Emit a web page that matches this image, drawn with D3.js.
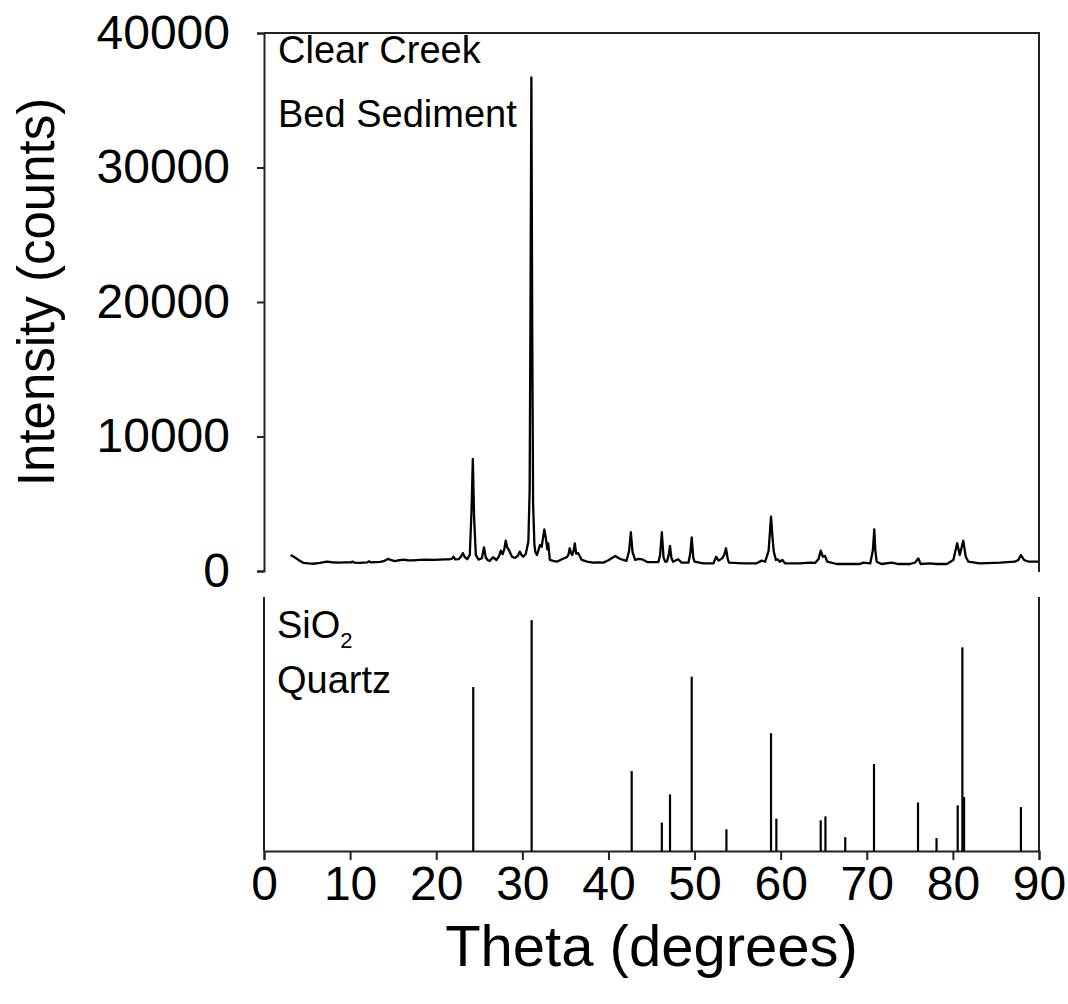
<!DOCTYPE html>
<html>
<head>
<meta charset="utf-8">
<script src="https://cdn.jsdelivr.net/npm/d3@7"></script>
<style>
  html, body { margin: 0; padding: 0; background: #fff; }
  svg { display: block; font-family: "Liberation Sans", Arial, Helvetica, sans-serif; }
</style>
</head>
<body>
<svg id="chart" width="1068" height="1004"></svg>
<script>
// Measured XRD pattern of Clear Creek bed sediment (2-theta in degrees, counts)
const scanTheta = [3.1,3.6,4.1,4.6,5.2,5.7,6.5,7.3,7.9,8.6,9.5,10.1,10.3,10.5,11.1,12.0,12.2,12.4,13.5,14.0,14.4,14.8,15.2,15.7,16.2,16.7,17.3,18.1,18.9,19.6,20.4,21.0,21.4,21.8,22.0,22.2,22.6,22.9,23.1,23.3,23.6,23.9,24.1,24.25,24.4,24.6,24.9,25.3,25.55,25.75,26.0,26.2,26.6,27.0,27.3,27.5,27.7,27.9,28.07,28.25,28.4,28.8,29.15,29.5,29.7,29.9,30.1,30.4,30.7,30.85,30.95,31.05,31.15,31.25,31.4,31.5,31.7,32.05,32.25,32.55,32.75,32.9,33.0,33.2,33.6,34.0,34.6,35.15,35.35,35.5,35.65,35.8,35.95,36.1,36.25,36.5,36.9,37.5,38.2,38.8,39.4,40.0,40.5,40.8,41.2,41.7,42.1,42.4,42.6,42.8,43.1,43.5,43.9,44.5,45.2,45.8,46.0,46.2,46.4,46.6,46.8,47.0,47.15,47.3,47.5,48.1,48.5,49.3,49.5,49.67,49.85,50.0,51.0,52.2,52.5,52.8,53.2,53.45,53.65,53.85,54.0,55.7,57.2,57.8,58.2,58.6,58.88,59.05,59.2,59.45,59.65,59.9,60.2,60.5,62.2,63.4,64.0,64.4,64.65,64.9,65.15,65.4,66.5,68.0,69.2,69.6,70.4,70.7,70.87,71.0,71.15,71.7,72.9,73.7,75.0,75.6,75.98,76.26,77.3,78.1,79.3,80.05,80.5,80.8,81.2,81.5,81.8,83.1,85.5,87.2,87.6,87.9,88.26,88.8,89.9];
const scanCounts = [1190,1000,780,600,560,540,600,690,650,620,640,640,700,620,600,640,720,640,680,760,900,800,740,800,850,800,790,820,840,820,840,860,870,900,1060,870,880,1100,1330,1050,880,1200,4500,8330,4000,1200,850,950,1760,1000,800,740,1020,820,1100,1510,1240,1600,2250,1750,1610,1060,970,1150,1440,1200,1060,1260,2200,6000,20000,36700,18000,5000,2000,1440,1190,1930,1810,3100,2360,1610,2060,820,750,690,870,1020,1200,1690,1350,1190,1500,2060,1300,1320,820,700,620,640,620,800,1000,1120,950,820,760,1500,2880,1400,820,900,870,670,660,670,1200,2880,1000,690,700,1200,1860,1000,690,870,620,620,1300,2500,1000,690,570,570,1060,770,940,1200,1690,900,620,570,570,770,690,1500,4040,2500,1440,820,870,690,820,570,570,620,600,900,1510,1060,1120,690,520,520,520,620,560,1500,3100,1500,690,520,620,520,520,620,940,520,570,520,520,820,2060,1190,2250,1060,690,570,620,690,820,1190,820,690,690];

// Reference stick pattern for quartz (SiO2): 2-theta and relative intensity
const quartzTheta = [24.3,31.08,42.7,46.2,47.15,49.67,53.7,58.88,59.5,64.65,65.2,67.5,70.84,75.95,78.1,80.56,81.1,81.3,87.9];
const quartzIntensity = [71,100,34.6,12.3,24.5,75.5,9.4,51,14,13.3,15,6,37.7,21,5.6,19.8,88.2,23.4,19];

const thetaTicks = [0,10,20,30,40,50,60,70,80,90];
const countTicks = [0,10000,20000,30000,40000];

const svg = d3.select("#chart");
const axisColor = "#222";
const fontStack = "'Liberation Sans', Arial, sans-serif";

const x = d3.scaleLinear().domain([0, 90]).range([264, 1039]);
const yTop = d3.scaleLinear().domain([0, 40000]).range([571, 33]);
const yBot = d3.scaleLinear().domain([0, 110]).range([851, 597]);

// ---- upper panel: measured scan ----
const scanPanel = svg.append("g");
// frame: top and right edges
scanPanel.append("path")
  .attr("d", `M${x(0)},${yTop(40000)}H${x(90)}V${yTop(0) + 1}`)
  .attr("fill", "none").attr("stroke", axisColor).attr("stroke-width", 2);

const yAxis = d3.axisLeft(yTop).tickValues(countTicks).tickSize(7).tickPadding(27)
  .tickFormat(d3.format("d"));
const gy = scanPanel.append("g").attr("transform", `translate(${x(0)},0)`).call(yAxis);
gy.select(".domain").attr("stroke", axisColor).attr("stroke-width", 2);
gy.selectAll(".tick line").attr("stroke", axisColor).attr("stroke-width", 2);
gy.selectAll(".tick text").attr("fill", "#000").style("font-size", "48px")
  .style("font-family", fontStack);

const scan = d3.zip(scanTheta, scanCounts);
scanPanel.append("path")
  .datum(scan)
  .attr("fill", "none")
  .attr("stroke", "#000")
  .attr("stroke-width", 2.3)
  .attr("stroke-linejoin", "round")
  .attr("d", d3.line().x(d => x(d[0])).y(d => yTop(d[1])));

scanPanel.append("text").attr("x", 278).attr("y", 63).style("font-size", "38px").text("Clear Creek");
scanPanel.append("text").attr("x", 278).attr("y", 127).style("font-size", "38px").text("Bed Sediment");

// ---- lower panel: quartz reference sticks ----
const stickPanel = svg.append("g");
stickPanel.append("line").attr("x1", x(0)).attr("x2", x(0)).attr("y1", yBot(110)).attr("y2", yBot(0))
  .attr("stroke", axisColor).attr("stroke-width", 2);
stickPanel.append("line").attr("x1", x(90)).attr("x2", x(90)).attr("y1", yBot(110)).attr("y2", yBot(0))
  .attr("stroke", axisColor).attr("stroke-width", 2);

const xAxis = d3.axisBottom(x).tickValues(thetaTicks).tickSize(9).tickPadding(6)
  .tickFormat(d3.format("d"));
const gx = stickPanel.append("g").attr("transform", `translate(0,${yBot(0)})`).call(xAxis);
gx.select(".domain").attr("stroke", axisColor).attr("stroke-width", 2);
gx.selectAll(".tick line").attr("stroke", axisColor).attr("stroke-width", 2);
gx.selectAll(".tick text").attr("fill", "#000").style("font-size", "48px")
  .style("font-family", fontStack);

stickPanel.selectAll("line.stick")
  .data(d3.zip(quartzTheta, quartzIntensity))
  .join("line")
  .attr("class", "stick")
  .attr("x1", d => x(d[0])).attr("x2", d => x(d[0]))
  .attr("y1", yBot(0)).attr("y2", d => yBot(d[1]))
  .attr("stroke", "#000").attr("stroke-width", 2.2);

const sio2 = stickPanel.append("text").attr("x", 277).attr("y", 638).style("font-size", "38px");
sio2.append("tspan").text("SiO");
sio2.append("tspan").attr("dy", 10).style("font-size", "22px").text("2");
stickPanel.append("text").attr("x", 277).attr("y", 693).style("font-size", "38px").text("Quartz");

// ---- axis titles ----
svg.append("text")
  .attr("transform", `translate(54,292) rotate(-90)`)
  .attr("text-anchor", "middle").style("font-size", "51px")
  .text("Intensity (counts)");
svg.append("text")
  .attr("x", (x(0) + x(90)) / 2).attr("y", 966)
  .attr("text-anchor", "middle").style("font-size", "58px")
  .text("Theta (degrees)");
</script>
</body>
</html>
